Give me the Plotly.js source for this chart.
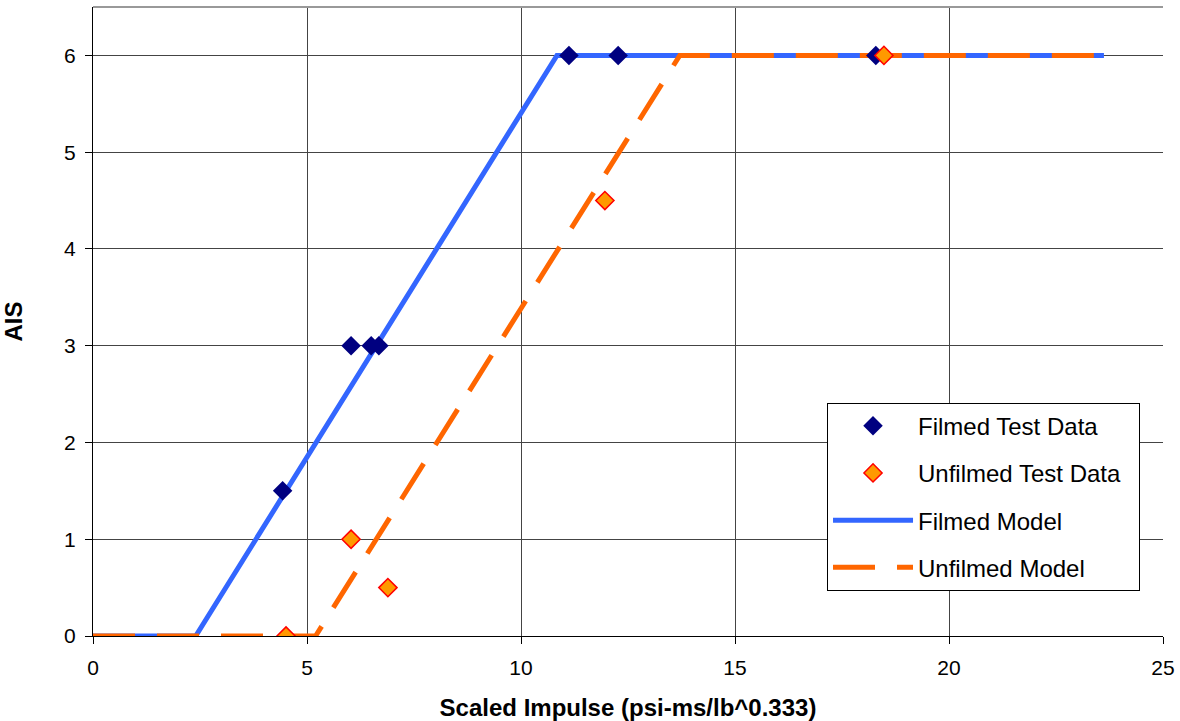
<!DOCTYPE html>
<html>
<head>
<meta charset="utf-8">
<script src="https://cdn.plot.ly/plotly-3.0.1.min.js"></script>
<style>html,body{margin:0;padding:0;background:#fff;}#chart{width:1180px;height:721px;}</style>
</head>
<body>
<div id="chart"></div>
<script>
const filmedX = [4.43, 6.03, 6.5, 6.68, 11.12, 12.27, 18.29];
const filmedY = [1.5, 3, 3, 3, 6, 6, 6];
const unfilmedX = [4.51, 6.03, 6.89, 11.96, 18.48];
const unfilmedY = [0, 1, 0.5, 4.5, 6];
const filmedModelX = [0, 2.4, 10.84, 23.62];
const filmedModelY = [0, 0, 6, 6];
const unfilmedModelX = [0, 5.2, 13.71, 23.62];
const unfilmedModelY = [0, 0, 6, 6];
const xTicks = [0, 5, 10, 15, 20, 25];
const yTicks = [0, 1, 2, 3, 4, 5, 6];

const font = 'Liberation Sans, Arial, sans-serif';

const traces = [
  {x: filmedModelX, y: filmedModelY, mode: 'lines', name: 'Filmed Model',
   line: {color: '#3366FF', width: 5}, legendrank: 3, legendgroup: 'c'},
  {x: unfilmedModelX, y: unfilmedModelY, mode: 'lines', name: 'Unfilmed Model',
   line: {color: '#FF6600', width: 5, dash: '42px,22px'}, legendrank: 4, legendgroup: 'd'},
  {x: filmedX, y: filmedY, mode: 'markers', name: 'Filmed Test Data',
   marker: {symbol: 'diamond', size: 15, color: '#000080', line: {width: 0}}, legendrank: 1, legendgroup: 'a'},
  {x: unfilmedX, y: unfilmedY, mode: 'markers', name: 'Unfilmed Test Data\u00a0\u00a0',
   marker: {symbol: 'diamond', size: 14, color: '#FF9900', line: {color: '#FF0000', width: 1.5}}, legendrank: 2, legendgroup: 'b'}
];

const layout = {
  width: 1180, height: 721,
  margin: {l: 93, r: 17, t: 7, b: 85},
  paper_bgcolor: '#fff', plot_bgcolor: '#fff',
  font: {family: font, size: 21, color: '#000'},
  showlegend: true,
  legend: {x: 0.686, y: 0.371, xanchor: 'left', yanchor: 'top',
    bordercolor: '#000', borderwidth: 1, bgcolor: '#fff',
    font: {family: font, size: 24, color: '#000'},
    traceorder: 'grouped', tracegroupgap: 13, itemwidth: 80},
  xaxis: {range: [0, 25], tickvals: xTicks, ticktext: xTicks.map(String),
    showgrid: true, gridcolor: '#444', gridwidth: 1, zeroline: false,
    showline: true, linecolor: '#000', linewidth: 1,
    ticks: 'outside', ticklen: 7, tickcolor: '#000', ticklabelstandoff: 6,
    tickfont: {family: font, size: 21},
    title: {text: '<b>Scaled Impulse (psi-ms/lb^0.333)</b>', font: {family: font, size: 24}, standoff: 22}},
  yaxis: {range: [0, 6.5], tickvals: yTicks, ticktext: yTicks.map(String),
    showgrid: true, gridcolor: '#444', gridwidth: 1, zeroline: false,
    showline: true, linecolor: '#000', linewidth: 1,
    ticks: 'outside', ticklen: 7, tickcolor: '#000', ticklabelstandoff: 5,
    tickfont: {family: font, size: 21},
    title: {text: '<b>AIS</b>', font: {family: font, size: 24}, standoff: 34}},
  shapes: [
    {type: 'line', xref: 'paper', yref: 'paper', x0: 0, x1: 1, y0: 1, y1: 1,
     line: {color: '#999', width: 2}}
  ]
};

Plotly.newPlot('chart', traces, layout, {displayModeBar: false, staticPlot: true});
</script>
</body>
</html>
